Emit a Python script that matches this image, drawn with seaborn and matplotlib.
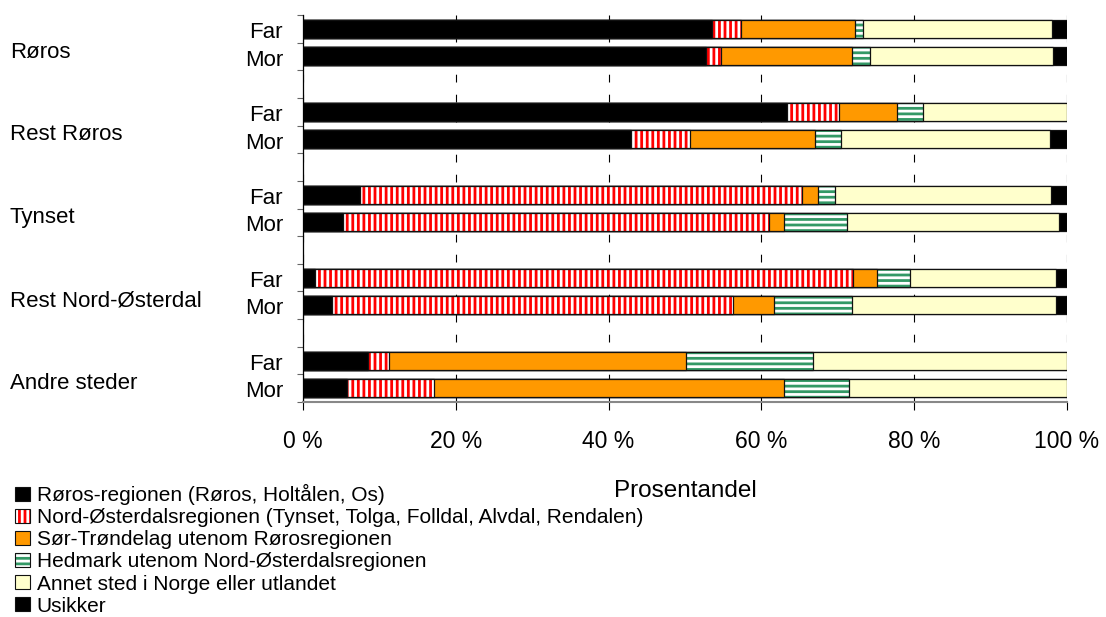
import numpy as np
import pandas as pd
import matplotlib
matplotlib.use("Agg")
import matplotlib.pyplot as plt
import matplotlib.transforms as mtransforms
from matplotlib.patches import Patch
import seaborn as sns

# ---------------- data ----------------
groups = ["Røros", "Rest Røros", "Tynset", "Rest Nord-Østerdal", "Andre steder"]
parents = ["Far", "Mor"]

categories = [
    "Røros-regionen (Røros, Holtålen, Os)",
    "Nord-Østerdalsregionen (Tynset, Tolga, Folldal, Alvdal, Rendalen)",
    "Sør-Trøndelag utenom Rørosregionen",
    "Hedmark utenom Nord-Østerdalsregionen",
    "Annet sted i Norge eller utlandet",
    "Usikker",
]

# values per row: Røros Far, Røros Mor, Rest Røros Far, Rest Røros Mor, Tynset Far, Tynset Mor,
# Rest N-Ø Far, Rest N-Ø Mor, Andre Far, Andre Mor  (percent)
roros_reg = [53.5, 52.8, 63.4, 42.9, 7.5, 5.3, 1.6, 3.8, 8.5, 5.8]
nord_ost = [3.8, 1.9, 6.7, 7.7, 57.8, 55.7, 70.4, 52.5, 2.7, 11.4]
sor_trond = [14.9, 17.1, 7.7, 16.4, 2.1, 1.9, 3.1, 5.3, 38.9, 45.7]
hedmark = [1.1, 2.4, 3.3, 3.4, 2.2, 8.3, 4.4, 10.3, 16.6, 8.6]
annet = [24.8, 24.0, 18.9, 27.4, 28.3, 27.8, 19.1, 26.7, 33.3, 28.5]
usikker = [1.9, 1.8, 0.0, 2.2, 2.1, 1.0, 1.4, 1.4, 0.0, 0.0]

xticks = [0, 20, 40, 60, 80, 100]
xtick_labels = ["0 %", "20 %", "40 %", "60 %", "80 %", "100 %"]
xlabel = "Prosentandel"

# ---------------- styles ----------------
face_colors = ["#000000", "#FFFFFF", "#FF9900", "#FFFFFF", "#FFFFCC", "#000000"]
hatch_colors = ["#000000", "#FF0000", "#FF9900", "#339966", "#FFFFCC", "#000000"]
hatches = [None, "|||", None, "---", None, None]

sns.set_theme(style="white")
plt.rcParams["font.family"] = ["Liberation Sans", "DejaVu Sans"]
plt.rcParams["hatch.linewidth"] = 2.0
plt.rcParams["text.color"] = "black"
plt.rcParams["axes.labelcolor"] = "black"
plt.rcParams["xtick.color"] = "black"
plt.rcParams["ytick.color"] = "black"

# ---------------- table ----------------
order = []
for gi, g in enumerate(groups):
    for p in parents:
        order.append(f"{g}|{p}")
    if gi < len(groups) - 1:
        order.append(f"gap{gi}")

series = [roros_reg, nord_ost, sor_trond, hedmark, annet, usikker]
labels = [f"{g}|{p}" for g in groups for p in parents]
df = pd.DataFrame({"slot": labels})
cum = np.zeros(len(labels))
for i, s in enumerate(series):
    cum = cum + np.array(s, dtype=float)
    df[f"cum{i}"] = cum.copy()

# ---------------- figure ----------------
W, H = 1106, 617
fig = plt.figure(figsize=(W / 100, H / 100), dpi=100)
ax = fig.add_axes([303 / W, 1 - 402 / H, 764 / W, 387 / H])

bar_w = 0.65
for i in reversed(range(len(series))):
    kw = dict(data=df, x=f"cum{i}", y="slot", order=order, orient="y",
              errorbar=None, width=bar_w, saturation=1, ax=ax)
    if hatches[i]:
        sns.barplot(color=face_colors[i], edgecolor=hatch_colors[i], linewidth=0,
                    hatch=hatches[i], **kw)
    else:
        sns.barplot(color=face_colors[i], edgecolor="#111111", linewidth=0, **kw)
    sns.barplot(color="#111111", fill=False, linewidth=0.9, **kw)

# axes formatting
ax.set_xlim(0, 100)
ax.set_ylim(len(order) - 0.5, -0.5)
ax.set_yticks(np.arange(-0.5, len(order), 1.0))
ax.set_yticklabels([])
ax.set_ylabel("")
ax.set_xticks(xticks)
ax.set_xticklabels(xtick_labels, fontsize=16.5, color="black")
ax.tick_params(axis="x", which="both", bottom=True, length=6, width=0.8, color="black",
               pad=14, labelcolor="black")
ax.tick_params(axis="y", which="both", left=True, length=4, width=0.8, color="#666666")

ax.grid(axis="x", color="black", linewidth=0.8, linestyle=(0, (7, 11)))
ax.grid(axis="y", visible=False)
ax.set_axisbelow(True)

for side in ["top", "right"]:
    ax.spines[side].set_visible(False)
ax.spines["left"].set_color("black")
ax.spines["left"].set_linewidth(0.9)
ax.spines["bottom"].set_color("#888888")
ax.spines["bottom"].set_linewidth(1.5)

ax.set_xlabel(xlabel, fontsize=17.5, va="baseline", color="black")
ax.xaxis.set_label_coords(0.5, (402 - 497) / 387)

# row labels
trans = mtransforms.blended_transform_factory(fig.transFigure, ax.transData)
for gi, g in enumerate(groups):
    far_idx = order.index(f"{g}|Far")
    ax.text(10 / W, far_idx + 0.5 + 0.54, g, transform=trans, ha="left",
            va="baseline", fontsize=16, color="black")
    for p in parents:
        idx = order.index(f"{g}|{p}")
        ax.text(283 / W, idx + 0.33, p, transform=trans, ha="right",
                va="baseline", fontsize=16, color="black")

# legend
handles = []
for i in range(len(series)):
    if hatches[i]:
        h = (Patch(facecolor=face_colors[i], edgecolor=hatch_colors[i], hatch=hatches[i], linewidth=0),
             Patch(facecolor="none", edgecolor="#111111", linewidth=0.8))
    else:
        h = Patch(facecolor=face_colors[i], edgecolor="#111111", linewidth=0.8)
    handles.append(h)
leg = fig.legend(handles, categories, loc="upper left", bbox_to_anchor=(15 / W, 1 - 484 / H),
                 frameon=False, fontsize=15, handlelength=0.7, handleheight=0.65,
                 handletextpad=0.35, labelspacing=0.15, borderpad=0, borderaxespad=0)
for t in leg.get_texts():
    t.set_color("black")

fig.savefig("out.png", dpi=100)
